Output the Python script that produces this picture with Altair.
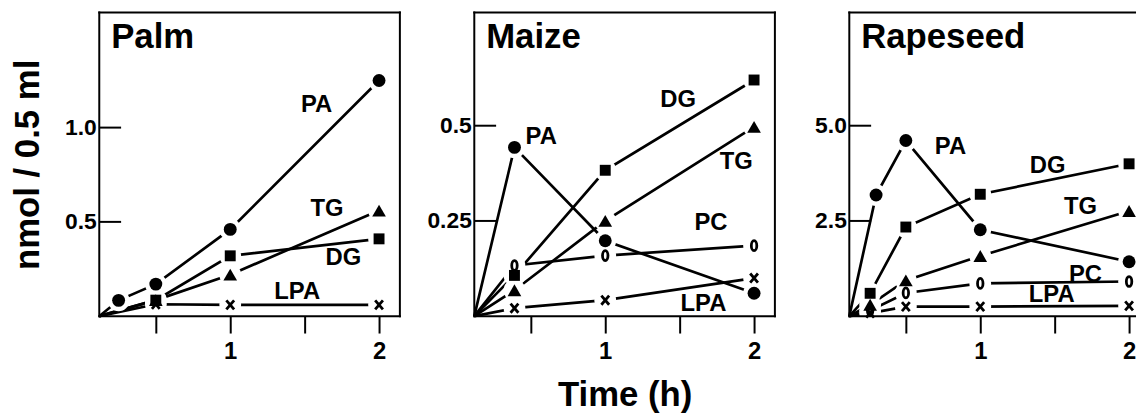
import altair as alt
import pandas as pd

FONT = "Liberation Sans"
T0 = 0.12  # time at the plot's lower-left corner, where every curve starts at zero

# ---------------- data (time h, nmol / 0.5 ml) ----------------
palm_t = {"PA": [T0, 0.25, 0.5, 1, 2], "DG": [T0, 0.5, 1, 2], "TG": [T0, 0.5, 1, 2], "LPA": [T0, 0.5, 1, 2]}
palm_v = {"PA": [0, 0.084, 0.17, 0.46, 1.25], "DG": [0, 0.085, 0.32, 0.41],
          "TG": [0, 0.085, 0.22, 0.56], "LPA": [0, 0.063, 0.06, 0.06]}

maize_t = {"PA": [T0, 0.39, 1, 2], "DG": [T0, 0.39, 1, 2], "TG": [T0, 0.39, 1, 2],
           "PC": [T0, 0.39, 1, 2], "LPA": [T0, 0.39, 1, 2]}
maize_v = {"PA": [0, 0.443, 0.198, 0.06], "DG": [0, 0.107, 0.383, 0.62], "TG": [0, 0.068, 0.25, 0.497],
           "PC": [0, 0.133, 0.159, 0.185], "LPA": [0, 0.021, 0.042, 0.10]}

rape_t = {"PA": [T0, 0.3, 0.5, 1, 2], "DG": [T0, 0.26, 0.5, 1, 2], "TG": [T0, 0.26, 0.5, 1, 2],
          "PC": [T0, 0.26, 0.5, 1, 2], "LPA": [T0, 0.26, 0.5, 1, 2]}
rape_v = {"PA": [0, 3.18, 4.61, 2.27, 1.43], "DG": [0, 0.6, 2.34, 3.2, 4.0], "TG": [0, 0.3, 0.94, 1.58, 2.76],
          "PC": [0, 0.15, 0.61, 0.86, 0.91], "LPA": [0, 0.08, 0.25, 0.25, 0.27]}

# curve labels (text, time, value)
palm_lab = (["PA", "TG", "DG", "LPA"], [1.58, 1.65, 1.76, 1.45], [1.12, 0.57, 0.31, 0.13])
maize_lab = (["PA", "DG", "TG", "PC", "LPA"], [0.57, 1.49, 1.88, 1.71, 1.66], [0.47, 0.568, 0.404, 0.245, 0.031])
rape_lab = (["PA", "DG", "TG", "PC", "LPA"], [0.80, 1.453, 1.673, 1.707, 1.48], [4.45, 3.93, 2.86, 1.09, 0.55])

x_ticks = [0.5, 1, 1.5, 2]
palm_yticks = [0.5, 1.0]
maize_yticks = [0.25, 0.5]
rape_yticks = [2.5, 5.0]
palm_ylabels = ["0.5", "1.0"]
maize_ylabels = ["0.25", "0.5"]
rape_ylabels = ["2.5", "5.0"]

H = 306
ELLIPSE = "M0,-1 A0.55,1 0 1,1 0,1 A0.55,1 0 1,1 0,-1 Z"
CROSS = "M-0.85,-1 L0.85,1 M-0.85,1 L0.85,-1"

# marker style per curve: (shape, size, filled)
MARK = {"LPA": (CROSS, 85, False), "PC": (ELLIPSE, 100, False), "TG": ("triangle-up", 190, True),
        "PA": ("circle", 169, True), "DG": ("square", 121, True)}


def label_expr(vals, labs):
    expr = "''"
    for v, l in zip(vals, labs):
        expr = f"(abs(datum.value - {v}) < 1e-6) ? '{l}' : ({expr})"
    return expr


def panel(name, tdict, vdict, labels, ydom, yticks, ylabels, xmax, width,
          ytitle=None, xtitle=None, right_border=True):
    rows = []
    for s in tdict:
        for i, (t, v) in enumerate(zip(tdict[s], vdict[s])):
            rows.append({"series": s, "t": t, "v": v, "i": i})
    df = pd.DataFrame(rows)
    pts = df[df.i > 0].reset_index(drop=True)

    xs = alt.Scale(domain=[T0, xmax], nice=False, zero=False)
    ys = alt.Scale(domain=ydom, nice=False, zero=False)

    xaxis_kw = dict(values=x_ticks, grid=False, domain=False, tickSize=17, tickWidth=2,
                    tickColor="black", labelFont=FONT, labelFontSize=24, labelFontWeight="bold",
                    labelColor="black", labelPadding=7, labelFlush=False,
                    labelExpr="(datum.value == 1 || datum.value == 2) ? format(datum.value, 'd') : ''")
    if xtitle:
        xaxis_kw.update(title=xtitle, titleFont=FONT, titleFontSize=35, titleFontWeight="bold",
                        titleColor="black", titlePadding=14)
    else:
        xaxis_kw.update(title=None)
    yaxis_kw = dict(values=yticks, grid=False, domain=False, ticks=False,
                    labelExpr=label_expr(yticks, ylabels),
                    labelFont=FONT, labelFontSize=23, labelFontWeight="bold", labelColor="black",
                    labelPadding=3)
    if ytitle:
        yaxis_kw.update(title=ytitle, titleFont=FONT, titleFontSize=35, titleFontWeight="bold",
                        titleColor="black", titlePadding=19.5)
    else:
        yaxis_kw.update(title=None)

    X = alt.X("t:Q", scale=xs, axis=alt.Axis(**xaxis_kw))
    Y = alt.Y("v:Q", scale=ys, axis=alt.Axis(**yaxis_kw))

    lines = alt.Chart(df).mark_line(color="black", strokeWidth=2.7).encode(
        x=X, y=Y, detail="series:N", order="i:Q")

    lab_df = pd.DataFrame({"lab": labels[0], "t": labels[1], "v": labels[2]})
    labs = alt.Chart(lab_df).mark_text(font=FONT, fontSize=24, fontWeight="bold", color="black",
                                       align="center", baseline="middle").encode(x=X, y=Y, text="lab:N")

    # white rings around the symbols, so the lines stop short of them
    halo = alt.Chart(pts).mark_circle(color="white", opacity=1, size=480, clip=True).encode(x=X, y=Y)

    markers = []
    for s in ["LPA", "PC", "TG", "PA", "DG"]:
        if s not in tdict:
            continue
        shape, size, filled = MARK[s]
        sub = pts[pts.series == s]
        if filled:
            mk = alt.Chart(sub).mark_point(filled=True, color="black", opacity=1, shape=shape, size=size)
        else:
            mk = alt.Chart(sub).mark_point(filled=False, color="black", opacity=1, shape=shape, size=size,
                                           strokeWidth=2.8)
        markers.append(mk.encode(x=X, y=Y))

    ytk = alt.Chart(pd.DataFrame({"v": yticks})).mark_rule(color="black", strokeWidth=2).encode(
        y=Y, x=alt.value(0), x2=alt.value(22))

    one = pd.DataFrame({"name": [name]})
    rule = dict(color="black", strokeWidth=2, strokeCap="square")
    frame = [
        alt.Chart(one).mark_rule(**rule).encode(x=alt.value(0), x2=alt.value(width), y=alt.value(0)),
        alt.Chart(one).mark_rule(**rule).encode(x=alt.value(0), x2=alt.value(width), y=alt.value(H)),
        alt.Chart(one).mark_rule(**rule).encode(x=alt.value(0), y=alt.value(0), y2=alt.value(H)),
    ]
    if right_border:
        frame.append(alt.Chart(one).mark_rule(**rule).encode(
            x=alt.value(width), y=alt.value(0), y2=alt.value(H)))
    title = alt.Chart(one).mark_text(font=FONT, fontSize=35, fontWeight="bold", color="black",
                                     align="left", baseline="alphabetic").encode(
        text="name:N", x=alt.value(12), y=alt.value(36))

    return alt.layer(lines, labs, halo, *markers, ytk, *frame, title).properties(
        width=width, height=H)


p1 = panel("Palm", palm_t, palm_v, palm_lab, [0, 1.61], palm_yticks, palm_ylabels, T0 + 303 / 150, 303,
           ytitle="nmol / 0.5 ml")
p2 = panel("Maize", maize_t, maize_v, maize_lab, [0, 0.797], maize_yticks, maize_ylabels, T0 + 303 / 150, 303,
           xtitle="Time (h)")
p3 = panel("Rapeseed", rape_t, rape_v, rape_lab, [0, 7.97], rape_yticks, rape_ylabels, T0 + 288 / 150, 288,
           right_border=False)

chart = alt.hconcat(p1, p2, p3, spacing=75, bounds="flush").configure_view(stroke=None).properties(
    padding={"left": 2, "top": 1, "right": 0, "bottom": 0}, background="white")

chart.save("out.html", embed_options={"renderer": "svg", "actions": False})
